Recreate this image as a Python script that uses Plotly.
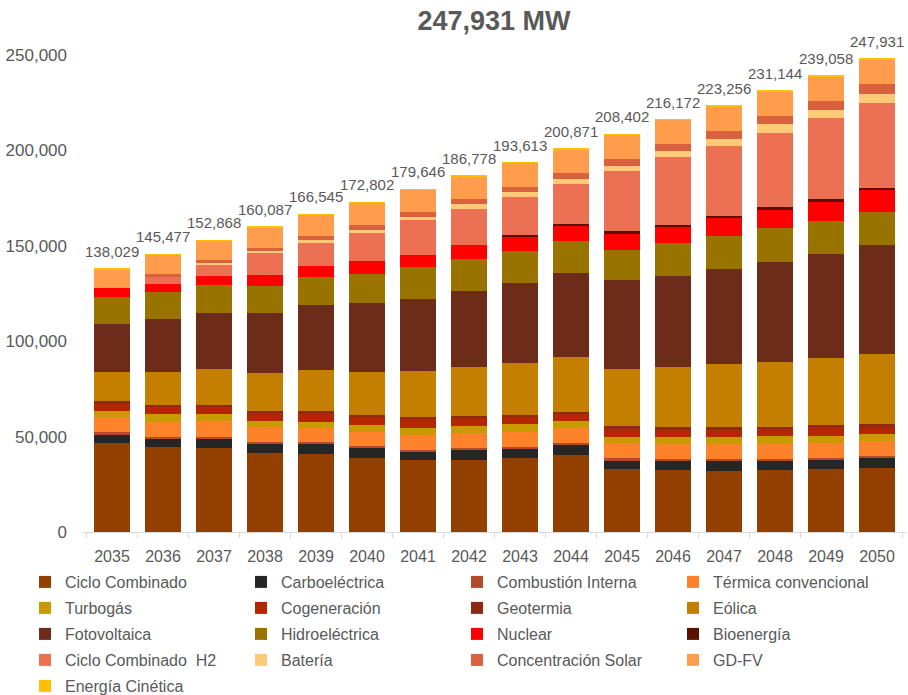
import plotly.graph_objects as go

years = [str(y) for y in range(2035, 2051)]
totals = [138029, 145477, 152868, 160087, 166545, 172802, 179646, 186778,
          193613, 200871, 208402, 216172, 223256, 231144, 239058, 247931]

ciclo_combinado = [46459, 44597, 44178, 41617, 41077, 38666, 37508, 37999, 38902, 40581, 33072, 32486, 32143, 32754, 33038, 33701]
carboelectrica = [4700, 4540, 4370, 4720, 5240, 5240, 4540, 5410, 4890, 4890, 4370, 4890, 4890, 4720, 5070, 5240]
combustion_interna = [1000, 870, 1050, 1050, 870, 1050, 1050, 700, 870, 1050, 1220, 870, 1220, 870, 870, 870]
termica_convencional = [7860, 7860, 8380, 7510, 7510, 7510, 7860, 7860, 7860, 8030, 8210, 7860, 7860, 8030, 7510, 7860]
turbogas = [3140, 3840, 3840, 3490, 3140, 3840, 3490, 3490, 3840, 3490, 3140, 3490, 3840, 3840, 3840, 3490]
cogeneracion = [4340, 4000, 3990, 4170, 4690, 3990, 4860, 4340, 3990, 3990, 4340, 4340, 3990, 3990, 4860, 4340]
geotermia = [900, 900, 900, 900, 950, 950, 950, 950, 1000, 1000, 1000, 1000, 1000, 1000, 1000, 1000]
eolica = [15700, 17470, 18690, 20090, 21310, 22700, 24280, 25850, 27420, 28470, 30220, 31440, 33190, 33890, 34930, 36680]
fotovoltaica = [25150, 27400, 29170, 31090, 34060, 36160, 37550, 39650, 41570, 44190, 46280, 47680, 49780, 52570, 54670, 57120]
hidroelectrica = [14150, 14500, 15000, 14320, 14850, 15370, 16590, 16590, 16940, 16940, 16070, 17470, 17470, 17820, 17290, 17640]
nuclear = [4370, 4200, 4700, 5760, 5760, 6460, 6640, 7330, 7510, 8210, 8730, 8560, 9260, 9610, 10130, 11350]
bioenergia = [0, 0, 0, 0, 0, 0, 0, 0, 700, 800, 870, 870, 1000, 1000, 1200, 1200]
ciclo_combinado_h2 = [0, 3500, 6100, 11350, 12230, 14850, 17990, 19210, 20090, 20790, 31440, 35460, 36680, 38950, 42440, 44540]
bateria = [0, 0, 870, 1400, 1500, 1700, 2000, 2400, 2500, 2600, 3000, 3200, 3800, 4600, 4370, 4370]
concentracion_solar = [0, 1700, 1200, 1200, 1900, 2300, 2600, 2600, 2800, 3000, 3490, 3600, 4000, 4200, 4540, 5240]
gd_fv = [9960, 9800, 10130, 11120, 11208, 11766, 11488, 12149, 12531, 12640, 12750, 12756, 12933, 13100, 13100, 13090]
energia_cinetica = [300, 300, 300, 300, 300, 300, 300, 300, 300, 300, 300, 300, 300, 300, 300, 300]

series = [
    ("Ciclo Combinado", ciclo_combinado, "#923F00"),
    ("Carboeléctrica", carboelectrica, "#262626"),
    ("Combustión Interna", combustion_interna, "#B24A2B"),
    ("Térmica convencional", termica_convencional, "#FD8229"),
    ("Turbogás", turbogas, "#C99900"),
    ("Cogeneración", cogeneracion, "#B32600"),
    ("Geotermia", geotermia, "#8C2B12"),
    ("Eólica", eolica, "#C47E00"),
    ("Fotovoltaica", fotovoltaica, "#6D2B19"),
    ("Hidroeléctrica", hidroelectrica, "#997300"),
    ("Nuclear", nuclear, "#FF0000"),
    ("Bioenergía", bioenergia, "#5E1000"),
    ("Ciclo Combinado\u00a0 H2", ciclo_combinado_h2, "#EC7053"),
    ("Batería", bateria, "#FFCA75"),
    ("Concentración Solar", concentracion_solar, "#D9613D"),
    ("GD-FV", gd_fv, "#FF9D4D"),
    ("Energía Cinética", energia_cinetica, "#FFC000"),
]

FONT = "Liberation Sans, Arial, sans-serif"
GREY = "#595959"
W, H = 908, 695
ML, MR, MT, MB = 83, 2, 55, 163
PW, PH = W - ML - MR, H - MT - MB

fig = go.Figure()
legend_ids = ["legend", "legend2", "legend3", "legend4", "legend5"]
for i, (name, vals, color) in enumerate(series):
    fig.add_trace(go.Bar(
        x=years, y=vals, name=name,
        marker=dict(color=color, line=dict(width=0)),
        legend=legend_ids[i // 4],
    ))

# total labels above each column (x given as category index)
for i, tot in enumerate(totals):
    fig.add_annotation(x=i, y=tot, xref="x", yref="y", text=f"{tot:,}",
                       showarrow=False, yanchor="bottom", yshift=7,
                       font=dict(family=FONT, size=15, color=GREY))

row_px = [582, 608, 634, 660, 686]
legend_common = dict(orientation="h", xanchor="left", yanchor="middle",
                     x=(25 - ML) / PW, traceorder="normal", entrywidth=171,
                     entrywidthmode="pixels", itemwidth=30,
                     font=dict(family=FONT, size=16, color=GREY),
                     bgcolor="rgba(0,0,0,0)", borderwidth=0)
legends = {}
for i, lid in enumerate(legend_ids):
    legends[lid] = dict(legend_common, y=(H - MB - row_px[i]) / PH)

fig.update_layout(
    width=W, height=H,
    margin=dict(l=ML, r=MR, t=MT, b=MB, autoexpand=False),
    paper_bgcolor="white", plot_bgcolor="white",
    barmode="stack", bargap=0.286,
    title=dict(text="<b>247,931 MW</b>", x=494 / W, xanchor="center",
               y=1 - 21 / H, yanchor="middle",
               font=dict(family=FONT, size=27, color=GREY)),
    xaxis=dict(type="category", showgrid=False, showline=True,
               linecolor="#D9D9D9", linewidth=1, ticks="outside",
               tickson="boundaries", ticklen=5, tickcolor="#D9D9D9",
               ticklabelstandoff=10, automargin=False,
               tickfont=dict(family=FONT, size=16, color=GREY)),
    yaxis=dict(range=[0, 250000], tickvals=[0, 50000, 100000, 150000, 200000, 250000],
               tickformat=",", showgrid=False, showline=False, zeroline=False,
               ticks="", ticklabelstandoff=15, automargin=False,
               tickfont=dict(family=FONT, size=17, color=GREY)),
    showlegend=True,
    **legends,
)

fig.write_html("out.html", config={"displayModeBar": False},
               post_script="document.body.style.margin='0';document.body.style.overflow='hidden';")
